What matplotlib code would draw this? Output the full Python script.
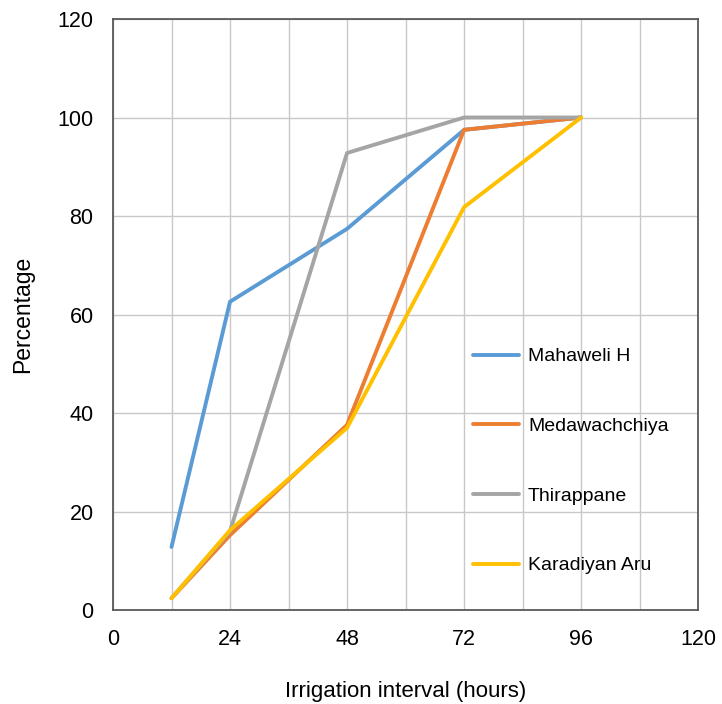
import matplotlib
matplotlib.use("Agg")
import matplotlib.pyplot as plt
from matplotlib.ticker import MultipleLocator

plt.rcParams['font.family'] = ['Liberation Sans', 'DejaVu Sans']

hours = [12, 24, 48, 72, 96]
mahaweli = [12.8, 62.6, 77.4, 97.5, 100]
medawachchiya = [2.4, 15.2, 37.6, 97.5, 100]
thirappane = [2.4, 16.0, 92.8, 100, 100]
karadiyan = [2.4, 16.2, 37.0, 81.8, 100]

series_names = ["Mahaweli H", "Medawachchiya", "Thirappane", "Karadiyan Aru"]
series_vals = [mahaweli, medawachchiya, thirappane, karadiyan]
colors = ["#5B9BD5", "#ED7D31", "#A5A5A5", "#FFC000"]

x_ticks = [0, 24, 48, 72, 96, 120]
y_ticks = [0, 20, 40, 60, 80, 100, 120]

fig = plt.figure(figsize=(7.22, 7.04), dpi=100)
ax = fig.add_axes([0.1565, 0.1335, 0.8105, 0.8395])

for name, vals, c in zip(series_names, series_vals, colors):
    ax.plot(hours, vals, color=c, lw=2.8, label=name, solid_joinstyle='round', solid_capstyle='round')

ax.set_xlim(0, 120)
ax.set_ylim(0, 120)
ax.set_xticks(x_ticks)
ax.set_yticks(y_ticks)
ax.xaxis.set_minor_locator(MultipleLocator(12))
ax.grid(True, which='both', axis='x', color='#C8C8C8', lw=1.0)
ax.grid(True, which='major', axis='y', color='#C8C8C8', lw=1.0)
ax.set_axisbelow(True)
ax.tick_params(which='both', length=0, labelsize=15.5)
ax.tick_params(axis='x', pad=14)
ax.tick_params(axis='y', pad=14)
for s in ax.spines.values():
    s.set_color('#595959')
    s.set_linewidth(1.3)

ax.set_xlabel("Irrigation interval (hours)", fontsize=16, labelpad=22)
ax.set_ylabel("Percentage", fontsize=16.5, labelpad=17)

leg = ax.legend(loc='upper left', bbox_to_anchor=(0.602, 0.457), frameon=False,
                fontsize=14, labelspacing=2.68, handlelength=2.37, handletextpad=0.46,
                borderaxespad=0)
for l in leg.get_lines():
    l.set_linewidth(2.8)

fig.savefig("out.png", dpi=100)
